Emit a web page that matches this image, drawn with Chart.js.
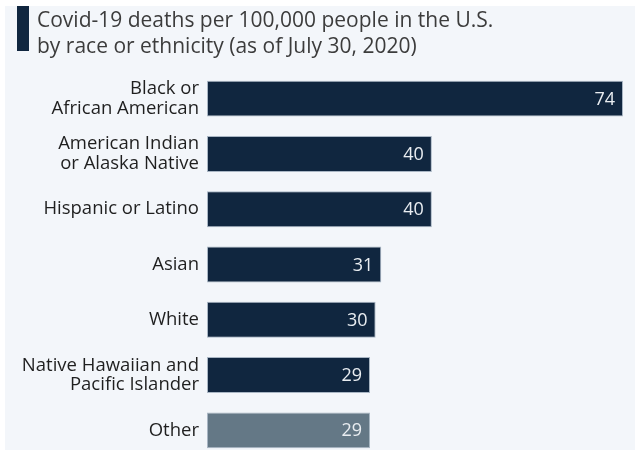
<!DOCTYPE html>
<html>
<head>
<meta charset="utf-8">
<script src="https://cdn.jsdelivr.net/npm/chart.js@4"></script>
<style>
  html, body { margin: 0; padding: 0; background: #ffffff; overflow: hidden; }
  #panel {
    position: absolute; left: 5px; top: 6px; width: 630px; height: 444px;
    background: #f3f6fa; overflow: hidden;
  }
  #title {
    position: absolute; left: 12px; top: 0px; height: 45px;
    border-left: 12px solid #10263f; padding-left: 8px;
    font-family: "Open Sans", sans-serif; font-size: 21px; line-height: 26px;
    color: #3c3c3c; white-space: nowrap;
  }
  #chart { position: absolute; left: -5px; top: -6px; }
</style>
</head>
<body>
<div id="panel">
  <canvas id="chart" width="635" height="466"></canvas>
  <div id="title">Covid-19 deaths per 100,000 people in the U.S.<br>by race or ethnicity (as of July 30, 2020)</div>
</div>
<script>
// Chart data
const categories = [
  ["Black or", "African American"],
  ["American Indian", "or Alaska Native"],
  "Hispanic or Latino",
  "Asian",
  "White",
  ["Native Hawaiian and", "Pacific Islander"],
  "Other"
];
const deaths = [74, 40, 40, 31, 30, 29, 29];
const barColors = ["#10263f", "#10263f", "#10263f", "#10263f", "#10263f", "#10263f", "#647886"];

// Draw the value inside the end of each bar
const valueLabels = {
  id: "valueLabels",
  afterDatasetsDraw(chart) {
    const ctx = chart.ctx;
    const meta = chart.getDatasetMeta(0);
    ctx.save();
    ctx.font = "18px 'Open Sans', sans-serif";
    ctx.fillStyle = "#e9edf1";
    ctx.textAlign = "right";
    ctx.textBaseline = "middle";
    meta.data.forEach((bar, i) => {
      ctx.fillText(String(deaths[i]), bar.x - 8, bar.y + 1);
    });
    ctx.restore();
  }
};

const chartCanvas = document.getElementById("chart");
new Chart(chartCanvas.getContext("2d"), {
  type: "bar",
  data: {
    labels: categories,
    datasets: [
      {
        data: deaths,
        backgroundColor: barColors,
        borderColor: "rgba(120,140,160,0.6)",
        borderWidth: 1,
        borderSkipped: false,
        barPercentage: 0.65,
        categoryPercentage: 1
      }
    ]
  },
  options: {
    indexAxis: "y",
    responsive: false,
    animation: false,
    layout: { padding: { top: 71, right: 12, bottom: 8, left: 0 } },
    plugins: {
      legend: { display: false },
      tooltip: { enabled: false }
    },
    scales: {
      x: { display: false, min: 0, max: 74 },
      y: {
        grid: { display: false, drawTicks: false },
        border: { display: false },
        afterFit(scale) {
          scale.width = 207;
          scale.paddingTop = 0;
          scale.paddingBottom = 0;
        },
        ticks: {
          color: "#1f1f1f",
          padding: 8,
          font: { family: "'Open Sans', sans-serif", size: 18.5, lineHeight: 1.05 }
        }
      }
    }
  },
  plugins: [valueLabels]
});
</script>
</body>
</html>
